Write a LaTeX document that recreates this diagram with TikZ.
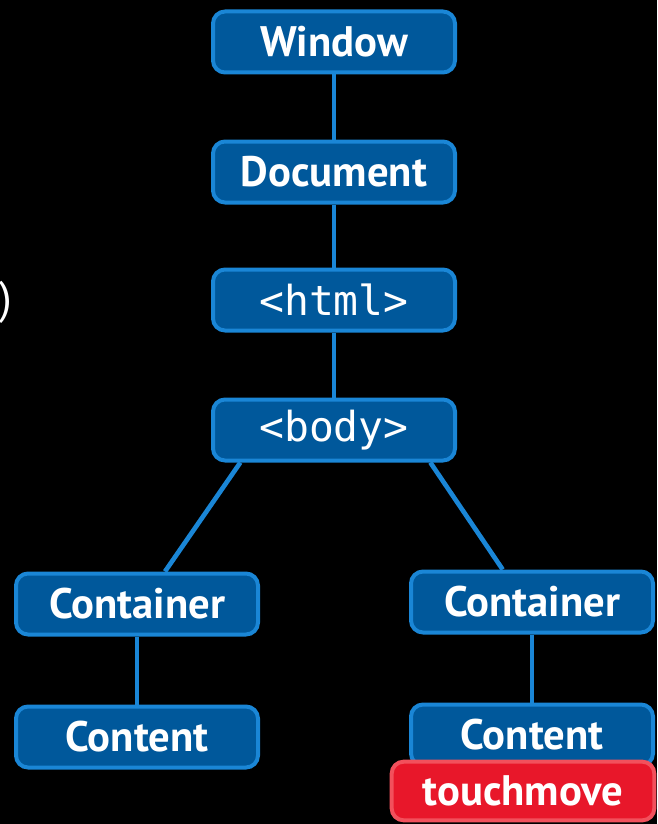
\documentclass[tikz,border=0pt]{standalone}
\usepackage{fontspec}
\setsansfont{PT Sans}
\newfontfamily\codefont{DejaVu Sans Mono}
\usepackage{tikz}
\usetikzlibrary{positioning}
\usetikzlibrary{calc}

\definecolor{boxfill}{RGB}{0,88,155}
\definecolor{boxline}{RGB}{26,134,214}
\definecolor{tagfill}{RGB}{232,23,42}
\definecolor{tagline}{RGB}{242,80,92}

\begin{document}
\begin{tikzpicture}[x=0.75pt, y=-0.75pt,
        box/.style={rectangle, rounded corners=9pt, draw=boxline, fill=boxfill, line width=3pt, text=white, minimum width=181.5pt, minimum height=45.75pt, inner sep=0pt, font=\sffamily\bfseries\fontsize{32}{36}\selectfont},
        codebox/.style={box, font=\codefont\fontsize{31}{35}\selectfont},
        tag/.style={rectangle, rounded corners=9pt, draw=tagline, fill=tagfill, line width=3pt, text=white, minimum width=197pt, minimum height=44pt, inner sep=0pt, font=\sffamily\bfseries\fontsize{32}{36}\selectfont},
        link/.style={draw=boxline, line width=3.5pt}]
        \fill[black] (0,0) rectangle (657,824);
        \clip (0,0) rectangle (657,824);

        \node[text=white, anchor=west, inner sep=0pt, font=\sffamily\fontsize{34}{38}\selectfont] (paren) at (-1, 302) {)};

        \node[box] (window) at (334, 42) {Window};

        \node[box] (document) at (334, 172) {Document};

        \node[codebox] (html) at (334, 300) {<html>};

        \node[codebox] (body) at (334, 430) {<body>};

        \node[box] (contL) at (137, 604) {Container};

        \node[box] (contR) at (532, 602) {Container};

        \node[box] (contentL) at (137, 737) {Content};

        \node[box] (contentR) at (532, 735) {Content};

        \node[tag] (touch) at (523, 791) {touchmove};

        \draw[link] (window) -- (document);
        \draw[link] (document) -- (html);
        \draw[link] (html) -- (body);
        \draw[link] ([xshift=22pt]body.south west) -- ([xshift=21pt]contL.north);
        \draw[link] ([xshift=-20pt]body.south east) -- ([xshift=-22pt]contR.north);
        \draw[link] (contL) -- (contentL);
        \draw[link] (contR) -- (contentR);
      \end{tikzpicture}
\end{document}
